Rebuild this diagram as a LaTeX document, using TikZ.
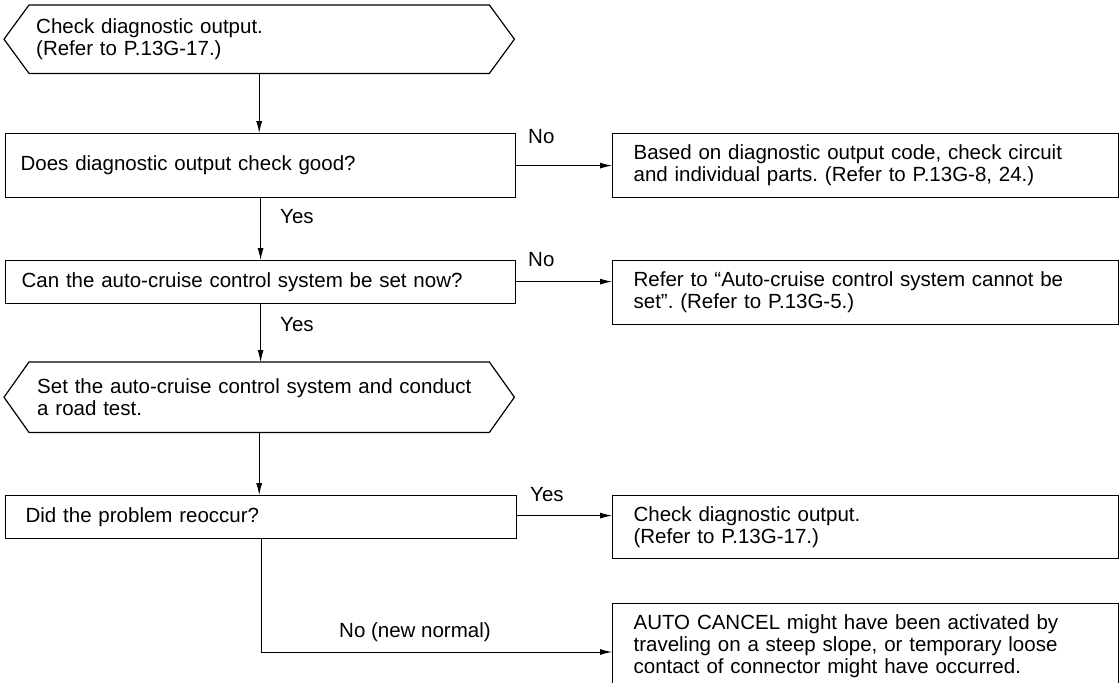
\documentclass[tikz,border=0pt]{standalone}
\usepackage{fontspec}
\setmainfont{Liberation Sans}
\usetikzlibrary{arrows.meta}
\begin{document}
\frenchspacing
\begin{tikzpicture}[x=1pt,y=-1pt,
  font=\fontsize{20.5}{22}\selectfont,
  box/.style={draw, line width=1.2pt, rectangle, anchor=north west, align=left, inner ysep=0pt},
  hexbox/.style={rectangle, anchor=north west, align=left, inner ysep=0pt},
  hexline/.style={line width=1.2pt, line join=miter},
  arr/.style={line width=0.9pt, -{Latex[length=12pt,width=6pt]}},
  lbl/.style={anchor=west, inner sep=0pt}]
\useasboundingbox (0,0) rectangle (1120,683);

% left column
\node[hexbox, minimum width=460pt, minimum height=68pt, text width=446pt, inner xsep=7pt] (h1) at (29,5)
  {Check diagnostic output.\\(Refer to P.13G-17.)};
\draw[hexline] (h1.north west) -- (h1.north east) -- ([xshift=25pt]h1.east) -- (h1.south east)
  -- (h1.south west) -- ([xshift=-25pt]h1.west) -- cycle;

\node[box, minimum width=510pt, minimum height=64pt, text width=480pt, inner xsep=15pt] (b2) at (5,133)
  {Does diagnostic output check good?};
\node[box, minimum width=510pt, minimum height=43pt, text width=478pt, inner xsep=16pt] (b3) at (5,260)
  {Can the auto-cruise control system be set now?};

\node[hexbox, minimum width=460pt, minimum height=70pt, text width=444pt, inner xsep=8pt] (h2) at (29,362)
  {Set the auto-cruise control system and conduct\\a road test.};
\draw[hexline] (h2.north west) -- (h2.north east) -- ([xshift=25pt]h2.east) -- (h2.south east)
  -- (h2.south west) -- ([xshift=-25pt]h2.west) -- cycle;

\node[box, minimum width=511pt, minimum height=43pt, text width=471pt, inner xsep=20pt] (b4) at (5,495)
  {Did the problem reoccur?};

% right column
\node[box, minimum width=506pt, minimum height=64pt, text width=464pt, inner xsep=21pt] (r1) at (612,133)
  {Based on diagnostic output code, check circuit\\and individual parts. (Refer to P.13G-8, 24.)};
\node[box, minimum width=506pt, minimum height=64pt, text width=464pt, inner xsep=21pt] (r2) at (612,260)
  {Refer to ``Auto-cruise control system cannot be\\set''. (Refer to P.13G-5.)};
\node[box, minimum width=506pt, minimum height=63pt, text width=464pt, inner xsep=21pt] (r3) at (612,495)
  {Check diagnostic output.\\(Refer to P.13G-17.)};
\node[box, minimum width=506pt, minimum height=86pt, text width=464pt, inner xsep=21pt] (r4) at (612,603)
  {AUTO CANCEL might have been activated by\\traveling on a steep slope, or temporary loose\\contact of connector might have occurred.};

% connectors
\draw[arr] (h1.south) -- (h1.south |- b2.north);
\draw[arr] (b2.south) -- (b2.south |- b3.north);
\draw[arr] (b3.south) -- (b3.south |- h2.north);
\draw[arr] (h2.south) -- (h2.south |- b4.north);

\draw[arr] (b2.east) -- (r1.west);
\draw[arr] ([yshift=0.5pt]b3.east) -- ([yshift=0.5pt]b3.east -| r2.west);
\draw[arr] ([yshift=1.5pt]b4.east) -- ([yshift=1.5pt]b4.east -| r3.west);

\coordinate (turn) at (261,652);
\draw[arr] (b4.south -| turn) -- (turn) -- (turn -| r4.west);

% labels
\node[lbl] (l1) at (528,137) {No};
\node[lbl] (l2) at (280,217) {Yes};
\node[lbl] (l3) at (528,260) {No};
\node[lbl] (l4) at (280,325) {Yes};
\node[lbl] (l5) at (530,495) {Yes};
\node[lbl] (l6) at (339,632) {No (new normal)};
\end{tikzpicture}
\end{document}
